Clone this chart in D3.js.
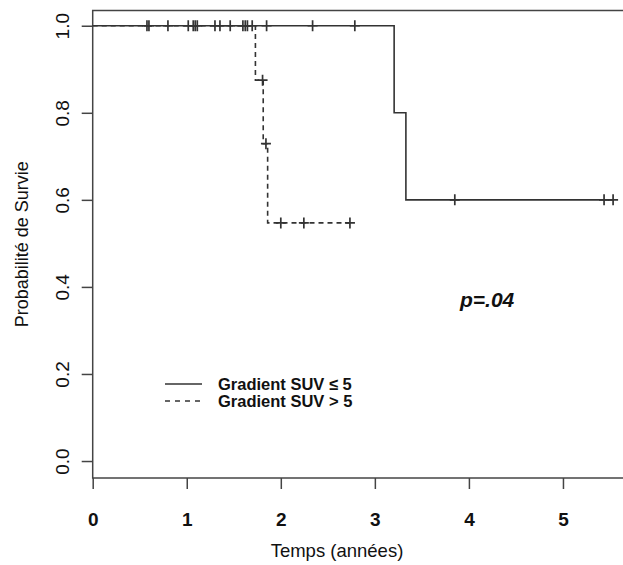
<!DOCTYPE html>
<html>
<head>
<meta charset="utf-8">
<script src="https://cdn.jsdelivr.net/npm/d3@7"></script>
<style>
  html, body { margin: 0; padding: 0; background: #fff; }
  svg { display: block; font-family: "Liberation Sans", Arial, Helvetica, sans-serif; }
</style>
</head>
<body>
<svg id="chart" width="623" height="565"></svg>
<script>
// Kaplan-Meier survival by SUV gradient group
const groupLabels = ["Gradient SUV \u2264 5", "Gradient SUV > 5"];

// Group 1 (solid): step times and survival after each step
const lowTimes = [0, 3.205, 3.33];
const lowSurv = [1.0, 0.8, 0.6];
const lowEnd = 5.533;
const lowCensored = [0.577, 0.598, 0.80, 1.016, 1.069, 1.090, 1.112, 1.30, 1.353, 1.462,
                     1.597, 1.622, 1.645, 1.696, 1.849, 2.338, 2.787, 3.85, 5.437, 5.533];

// Group 2 (dashed)
const highTimes = [0, 1.73, 1.813, 1.86];
const highSurv = [1.0, 0.875, 0.729, 0.547];
const highEnd = 2.735;
const highCensored = [1.806, 1.842, 2.0, 2.245, 2.735];

const xTicks = [0, 1, 2, 3, 4, 5];
const yTicks = [0.0, 0.2, 0.4, 0.6, 0.8, 1.0];
const pLabel = "p=.04";
const xTitle = "Temps (années)";
const yTitle = "Probabilité de Survie";

const svg = d3.select("#chart");
const ink = "#333";

const x = d3.scaleLinear().domain([0, 5.7]).range([92.7, 628.8]);
const y = d3.scaleLinear().domain([-0.039, 1.035]).range([478, 10.5]);

// plot frame (right edge runs past the page)
svg.append("rect")
  .attr("x", x(0)).attr("y", y(1.035))
  .attr("width", 700).attr("height", y(-0.039) - y(1.035))
  .attr("fill", "none").attr("stroke", "#444").attr("stroke-width", 1.5);

// x axis
const xAxis = svg.append("g")
  .attr("transform", `translate(0,${y(-0.039)})`)
  .call(d3.axisBottom(x).tickValues(xTicks).tickSize(11).tickSizeOuter(0).tickPadding(24)
        .tickFormat(d3.format("d")));
xAxis.select(".domain").remove();
xAxis.selectAll(".tick line").attr("stroke", "#444").attr("stroke-width", 1.5);
xAxis.selectAll(".tick text")
  .attr("fill", "#111").attr("font-size", 19).attr("font-weight", "bold")
  .attr("font-family", "Liberation Sans, Arial, sans-serif");

// y axis with rotated labels
const yAxis = svg.append("g")
  .attr("transform", `translate(${x(0)},0)`)
  .call(d3.axisLeft(y).tickValues(yTicks).tickSize(11).tickSizeOuter(0)
        .tickFormat(d3.format(".1f")));
yAxis.select(".domain").remove();
yAxis.selectAll(".tick line").attr("stroke", "#444").attr("stroke-width", 1.5);
yAxis.selectAll(".tick text")
  .attr("x", null).attr("dy", null)
  .attr("transform", "translate(-30,0) rotate(-90)")
  .attr("text-anchor", "middle").attr("dominant-baseline", "central")
  .attr("fill", "#111").attr("font-size", 19)
  .attr("font-family", "Liberation Sans, Arial, sans-serif");

// axis titles
svg.append("text")
  .attr("x", 337).attr("y", 557)
  .attr("text-anchor", "middle")
  .attr("font-size", 18.5).attr("fill", "#111")
  .text(xTitle);
svg.append("text")
  .attr("transform", `translate(22,${(y(1.035) + y(-0.039)) / 2}) rotate(-90)`)
  .attr("text-anchor", "middle").attr("dominant-baseline", "central")
  .attr("font-size", 18).attr("fill", "#111")
  .text(yTitle);

// step curve builder
function stepPoints(times, surv, end) {
  const pts = [];
  times.forEach((t, i) => {
    if (i > 0) pts.push([t, surv[i - 1]]);
    pts.push([t, surv[i]]);
  });
  pts.push([end, surv[surv.length - 1]]);
  return pts;
}
function survAt(times, surv, t) {
  let v = surv[0];
  times.forEach((tt, i) => { if (tt <= t) v = surv[i]; });
  return v;
}
const line = d3.line().x(d => x(d[0])).y(d => y(d[1]));

const curves = [
  { times: lowTimes, surv: lowSurv, end: lowEnd, cens: lowCensored, dash: null },
  { times: highTimes, surv: highSurv, end: highEnd, cens: highCensored, dash: "5,4" }
];

curves.forEach(c => {
  svg.append("path")
    .attr("d", line(stepPoints(c.times, c.surv, c.end)))
    .attr("fill", "none").attr("stroke", ink).attr("stroke-width", 1.6)
    .attr("stroke-dasharray", c.dash);
  const marks = svg.append("g");
  c.cens.forEach(t => {
    const cx = x(t), cy = y(survAt(c.times, c.surv, t));
    marks.append("path")
      .attr("d", `M${cx - 5},${cy}H${cx + 5}M${cx},${cy - 5.5}V${cy + 5.5}`)
      .attr("stroke", ink).attr("stroke-width", 1.7).attr("fill", "none");
  });
});

// legend
const legend = svg.append("g").attr("transform", "translate(165,384)");
groupLabels.forEach((lab, i) => {
  const g = legend.append("g").attr("transform", `translate(0,${i * 17})`);
  g.append("line").attr("x1", 0).attr("x2", 37).attr("y1", 0).attr("y2", 0)
    .attr("stroke", ink).attr("stroke-width", 1.6)
    .attr("stroke-dasharray", i === 1 ? "5,5" : null);
  g.append("text").attr("x", 53).attr("y", 0)
    .attr("dominant-baseline", "central")
    .attr("font-size", 16.5).attr("font-weight", "bold").attr("fill", "#111")
    .text(lab);
});

// p-value
svg.append("text")
  .attr("x", 460).attr("y", 307)
  .attr("font-size", 21).attr("font-weight", "bold").attr("font-style", "italic")
  .attr("fill", "#111")
  .text(pLabel);
</script>
</body>
</html>
